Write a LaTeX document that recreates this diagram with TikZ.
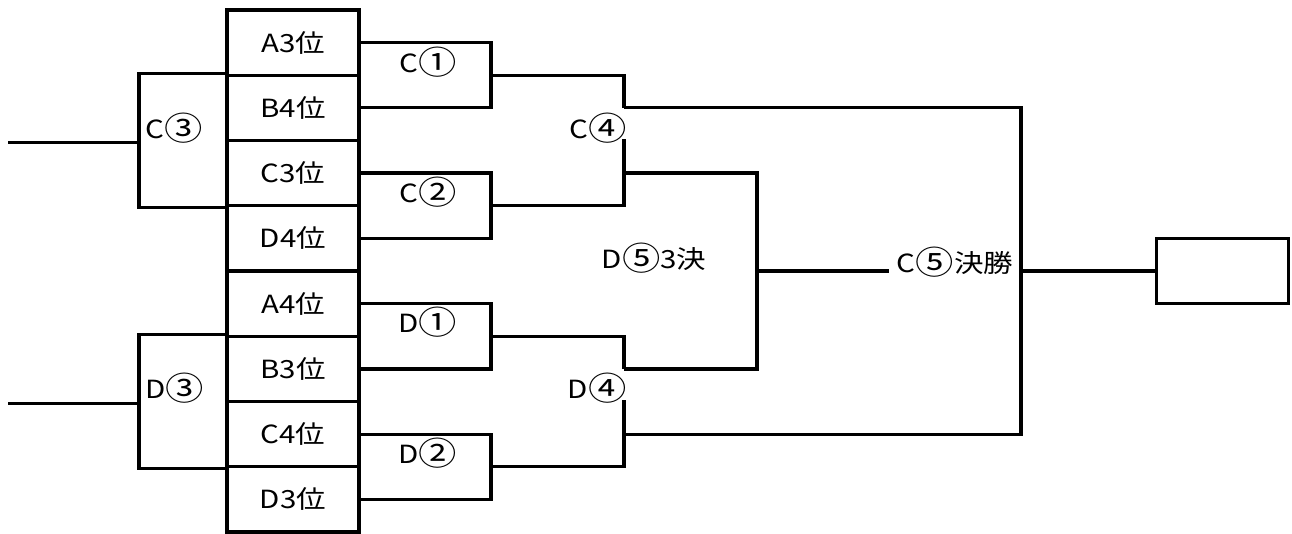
\documentclass[tikz,border=0pt]{standalone}
\usepackage{fontspec}
\setmainfont{Noto Sans CJK JP}[FakeStretch=1.18]
\usetikzlibrary{calc}
\newcommand\circnum[1]{\raisebox{-0.09em}{\scalebox{1.3}{#1}}}
\begin{document}
\begin{tikzpicture}[x=1pt,y=-1pt,line width=3.2pt,
  team/.style={draw,minimum width=132pt,minimum height=65.25pt,inner sep=0pt,font=\fontsize{25}{28}\selectfont},
  lbl/.style={inner sep=0pt,font=\fontsize{25}{28}\selectfont}]
\useasboundingbox (0,0) rectangle (1292,534);
% team boxes
\node[team] (A3) at (293,42.6) {A3位};
\node[team] (B4) at (293,107.9) {B4位};
\node[team] (C3) at (293,173.1) {C3位};
\node[team] (D4) at (293,238.4) {D4位};
\node[team] (A4) at (293,303.6) {A4位};
\node[team] (B3) at (293,368.9) {B3位};
\node[team] (C4) at (293,434.1) {C4位};
\node[team] (D3) at (293,499.4) {D3位};
% column coordinates
\coordinate (x0) at (139,0);
\coordinate (x1) at (491,0);
\coordinate (x2) at (624,0);
\coordinate (x3) at (757,0);
\coordinate (x4) at (1021,0);
\coordinate (Lc) at (8,0);
% left brackets
\draw (B4.north west) -| (x0 |- C3.south west) -- (C3.south west);
\draw (Lc |- B4.south) -- (x0 |- B4.south);
\draw (B3.north west) -| (x0 |- C4.south west) -- (C4.south west);
\draw (Lc |- B3.south) -- (x0 |- B3.south);
% first round
\draw (A3.east) -| (x1 |- B4.east) -- (B4.east);
\draw (C3.east) -| (x1 |- D4.east) -- (D4.east);
\draw (A4.east) -| (x1 |- B3.east) -- (B3.east);
\draw (C4.east) -| (x1 |- D3.east) -- (D3.east);
\coordinate (m1) at ($(x1 |- A3.east)!0.5!(x1 |- B4.east)$);
\coordinate (m2) at ($(x1 |- C3.east)!0.5!(x1 |- D4.east)$);
\coordinate (m3) at ($(x1 |- A4.east)!0.5!(x1 |- B3.east)$);
\coordinate (m4) at ($(x1 |- C4.east)!0.5!(x1 |- D3.east)$);
% semi
\draw (m1) -| (x2 |- B4.east);
\draw (m2) -| (x2 |- C3.north);
\draw (m3) -| (x2 |- B3.east);
\draw (m4) -| (x2 |- C4.north);
% final and 3rd place
\draw (x2 |- B4.east) -| (x4 |- C4.east) -- (x2 |- C4.east);
\draw (x2 |- C3.east) -| (x3 |- B3.east) -- (x2 |- B3.east);
\coordinate (f3) at ($(x3 |- C3.east)!0.5!(x3 |- B3.east)$);
\coordinate (f3e) at (889,0);
\draw (f3) -- (f3e |- f3);
\coordinate (f1) at ($(x4 |- B4.east)!0.5!(x4 |- C4.east)$);
\node[draw,minimum width=132pt,minimum height=65pt,inner sep=0pt,anchor=west] (W) at ($(f1)+(134,0)$) {};
\draw (f1) -- (W.west);
% labels
\node[lbl,anchor=west] (lC3) at (144,128) {C\circnum{③}};
\node[lbl,anchor=west] (lD3) at (144,388) {D\circnum{③}};
\node[lbl] (lC1) at (428,62) {C\circnum{①}};
\node[lbl] (lC2) at (428,192) {C\circnum{②}};
\node[lbl] (lD1) at (428,322) {D\circnum{①}};
\node[lbl] (lD2) at (428,453) {D\circnum{②}};
\node[lbl,anchor=east] (lC4) at (628,128) {C\circnum{④}};
\node[lbl,anchor=east] (lD4) at (628,388) {D\circnum{④}};
\node[lbl] (lD5) at (654,258) {D\circnum{⑤}3決};
\node[lbl] (lC5) at (955,262) {C\circnum{⑤}決勝};
\end{tikzpicture}
\end{document}
